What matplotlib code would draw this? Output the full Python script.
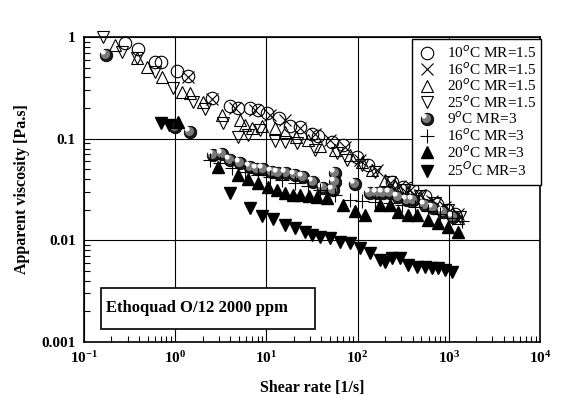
import matplotlib
matplotlib.use('Agg')
import matplotlib.pyplot as plt
from matplotlib.path import Path
from matplotlib.patches import Rectangle
from matplotlib.ticker import FixedLocator, LogLocator, NullFormatter

plt.rcParams['font.family'] = ['Liberation Serif', 'DejaVu Serif']
plt.rcParams['mathtext.fontset'] = 'custom'
plt.rcParams['mathtext.rm'] = 'Liberation Serif'
plt.rcParams['mathtext.bf'] = 'Liberation Serif:bold'

# 10 C MR=1.5 (open circles)
x10a = [0.28, 0.39, 0.60, 0.70, 1.05, 1.38, 2.53, 4.0, 4.9, 6.6, 8.1, 10.2, 13.7, 18.1, 23.4,
        31.6, 36.8, 52, 69, 98, 130, 238, 315, 395, 548, 743, 955, 1170]
y10a = [0.87, 0.76, 0.57, 0.57, 0.46, 0.41, 0.25, 0.21, 0.20, 0.20, 0.19, 0.18, 0.16, 0.133, 0.13,
        0.111, 0.106, 0.093, 0.087, 0.066, 0.055, 0.0375, 0.0335, 0.033, 0.027, 0.023, 0.020, 0.018]
# 16 C MR=1.5 (x)
x16a = [1.38, 2.53, 4.53, 7.5, 10.9, 16.0, 23.4, 34.1, 49.8, 72.8, 106, 163, 227, 292, 376,
        483, 654, 908, 1262]
y16a = [0.404, 0.246, 0.200, 0.191, 0.171, 0.153, 0.127, 0.111, 0.097, 0.083, 0.0617, 0.0492,
        0.0367, 0.0343, 0.0313, 0.0279, 0.0244, 0.0213, 0.0182]
# 20 C MR=1.5 (open up triangles)
x20a = [0.219, 0.381, 0.491, 0.716, 1.19, 1.45, 2.02, 3.26, 5.14, 5.82, 6.95, 8.95, 12.4, 16.0,
        21.1, 28.6, 38.7, 56.5, 82.6, 112, 144, 200, 257, 357, 483, 654, 908, 1262]
y20a = [0.834, 0.622, 0.507, 0.404, 0.288, 0.281, 0.230, 0.171, 0.153, 0.136, 0.127, 0.133, 0.127,
        0.116, 0.104, 0.097, 0.0848, 0.0774, 0.0691, 0.059, 0.0492, 0.0393, 0.0343, 0.0299,
        0.0267, 0.0228, 0.0199, 0.0166]
# 25 C MR=1.5 (open down triangles)
x25a = [0.161, 0.261, 0.381, 0.60, 0.946, 1.57, 2.12, 3.34, 4.88, 6.29, 8.51, 12.4, 16.0, 21.7,
        34.1, 59.4, 76.5, 112, 155, 227, 331, 483, 706, 980, 1327]
y25a = [1.0, 0.712, 0.622, 0.453, 0.315, 0.230, 0.196, 0.143, 0.104, 0.109, 0.122, 0.095, 0.093,
        0.0907, 0.0774, 0.0723, 0.0617, 0.0551, 0.0471, 0.0375, 0.0313, 0.0273, 0.0233, 0.0199,
        0.0170]
# 9 C MR=3 (spheres)
x9b = [0.174, 0.995, 1.45, 2.60, 3.26, 3.99, 5.14, 6.61, 7.89, 9.18, 11.5, 13.4, 16.4, 20.6, 25.2,
       32.4, 41.8, 56.5, 56.5, 53.7, 93.6, 137, 163, 190, 227, 277, 348, 405, 548, 671, 864, 1112]
y9b = [0.665, 0.130, 0.116, 0.0691, 0.0707, 0.0617, 0.0577, 0.0527, 0.0504, 0.0504, 0.0471, 0.046,
       0.046, 0.044, 0.042, 0.0375, 0.0327, 0.046, 0.0375, 0.0313, 0.0359, 0.0292, 0.0292, 0.0292,
       0.0292, 0.0267, 0.025, 0.025, 0.0223, 0.0208, 0.019, 0.017]
# 16 C MR=3 (+)
x16b = [2.41, 3.10, 4.20, 5.82, 8.09, 10.9, 14.8, 20.6, 28.6, 38.7, 56.5, 82.6, 112, 155, 227,
        307, 426, 591, 801, 1084, 1396]
y16b = [0.0617, 0.0577, 0.0515, 0.0471, 0.044, 0.042, 0.0393, 0.0367, 0.0343, 0.0313, 0.0279,
        0.025, 0.0244, 0.0239, 0.0233, 0.0223, 0.0213, 0.0195, 0.0182, 0.0166, 0.0155]
# 20 C MR=3 (filled up triangles)
x20b = [1.07, 2.95, 4.88, 6.29, 8.09, 10.4, 13.1, 16.0, 19.6, 23.4, 29.3, 35.9, 46.2, 69.2, 93.6,
        120, 176, 227, 277, 357, 448, 591, 762, 980, 1262]
y20b = [0.146, 0.0527, 0.044, 0.0402, 0.0367, 0.0335, 0.0313, 0.0292, 0.0279, 0.0279, 0.0273,
        0.0267, 0.0261, 0.0223, 0.0195, 0.0178, 0.0223, 0.0223, 0.019, 0.0178, 0.0178, 0.0159,
        0.0148, 0.0135, 0.0121]
# 25 C MR=3 (filled down triangles)
x25b = [0.698, 0.855, 3.99, 6.61, 8.95, 11.8, 16.0, 20.6, 26.5, 31.6, 38.7, 49.8, 64.1, 82.6, 106,
        137, 176, 200, 238, 292, 357, 448, 548, 654, 762, 908, 1084]
y25b = [0.143, 0.136, 0.0292, 0.0208, 0.0174, 0.0162, 0.0142, 0.0132, 0.0121, 0.0113, 0.0108,
        0.0106, 0.00964, 0.00942, 0.00841, 0.00751, 0.00641, 0.00613, 0.00671, 0.00671, 0.00573,
        0.00547, 0.00547, 0.00535, 0.00535, 0.00512, 0.00489]

labels = ['10$^{o}$C MR=1.5', '16$^{o}$C MR=1.5', '20$^{o}$C MR=1.5', '25$^{o}$C MR=1.5',
          '9$^{o}$C MR=3', '16$^{o}$C MR=3', '20$^{o}$C MR=3', '25$^{O}$C MR=3']

fig = plt.figure(figsize=(5.71, 4.11), dpi=100)
ax = fig.add_axes([84/571, 1-342/411, 456/571, 305/411])
ax.set_xscale('log')
ax.set_yscale('log')
ax.set_xlim(0.1, 1e4)
ax.set_ylim(0.001, 1)

ms = 9
common = dict(ls='none', clip_on=False, zorder=3)
h1, = ax.plot(x10a, y10a, marker='o', ms=ms, mfc='none', mec='k', mew=0.8, **common)
h2, = ax.plot(x16a, y16a, marker='x', ms=ms, mec='k', mew=0.8, **common)
h3, = ax.plot(x20a, y20a, marker='^', ms=ms, mfc='none', mec='k', mew=0.8, **common)
h4, = ax.plot(x25a, y25a, marker='v', ms=ms, mfc='none', mec='k', mew=0.8, **common)

# shaded ball marker: dark ball + grey + white highlight
mid = Path.circle(center=(-0.08, 0.08), radius=0.34)
hl = Path.circle(center=(-0.3, 0.3), radius=0.22)
b1, = ax.plot(x9b, y9b, marker='o', ms=ms, mfc='#1a1a1a', mec='k', mew=0.6, **common)
b2, = ax.plot(x9b, y9b, marker=mid, ms=ms*0.9, mfc='#7a7a7a', mec='none', ls='none',
              clip_on=False, zorder=3)
b3, = ax.plot(x9b, y9b, marker=hl, ms=ms*0.95, mfc='white', mec='none', ls='none',
              clip_on=False, zorder=3)

h6, = ax.plot(x16b, y16b, marker='+', ms=ms+1, mec='k', mew=0.8, **common)
h7, = ax.plot(x20b, y20b, marker='^', ms=ms, mfc='k', mec='k', **common)
h8, = ax.plot(x25b, y25b, marker='v', ms=ms, mfc='k', mec='k', **common)

ax.grid(True, which='major', color='k', lw=0.8)
ax.set_axisbelow(True)
for s in ax.spines.values():
    s.set_linewidth(1.2)

ax.xaxis.set_major_locator(FixedLocator([0.1, 1, 10, 100, 1000, 10000]))
ax.set_xticklabels([r'$\mathbf{10^{-1}}$', r'$\mathbf{10^{0}}$', r'$\mathbf{10^{1}}$',
                    r'$\mathbf{10^{2}}$', r'$\mathbf{10^{3}}$', r'$\mathbf{10^{4}}$'])
ax.yaxis.set_major_locator(FixedLocator([0.001, 0.01, 0.1, 1]))
ax.set_yticklabels(['0.001', '0.01', '0.1', '1'], fontweight='bold')
ax.xaxis.set_minor_locator(LogLocator(base=10, subs=range(2, 10)))
ax.yaxis.set_minor_locator(LogLocator(base=10, subs=range(2, 10)))
ax.xaxis.set_minor_formatter(NullFormatter())
ax.yaxis.set_minor_formatter(NullFormatter())
ax.tick_params(which='both', direction='in', top=False, right=False)
ax.tick_params(which='major', length=0, labelsize=11, pad=6)
ax.tick_params(which='minor', length=4, width=0.8)

ax.set_xlabel('Shear rate [1/s]', fontsize=11.5, fontweight='bold', labelpad=10)
ax.set_ylabel('Apparent viscosity [Pa.s]', fontsize=11.5, fontweight='bold', labelpad=8)

# annotation box
ax.add_patch(Rectangle((0.0373, 0.0426), 0.469, 0.134, transform=ax.transAxes,
                       fc='white', ec='k', lw=1.2, zorder=4))
ax.text(0.049, 0.112, 'Ethoquad O/12 2000 ppm', transform=ax.transAxes, fontsize=12,
        fontweight='bold', va='center', ha='left', zorder=5)

leg = fig.legend([h1, h2, h3, h4, (b1, b2, b3), h6, h7, h8], labels,
                 loc='upper right', bbox_to_anchor=(541/571, 1-39/411),
                 fontsize=11, frameon=True, fancybox=False, framealpha=1,
                 edgecolor='k', handlelength=1.2, handletextpad=0.7,
                 labelspacing=0.0, borderpad=0.35, borderaxespad=0)
leg.get_frame().set_linewidth(1.0)

fig.savefig('out.png', dpi=100)
